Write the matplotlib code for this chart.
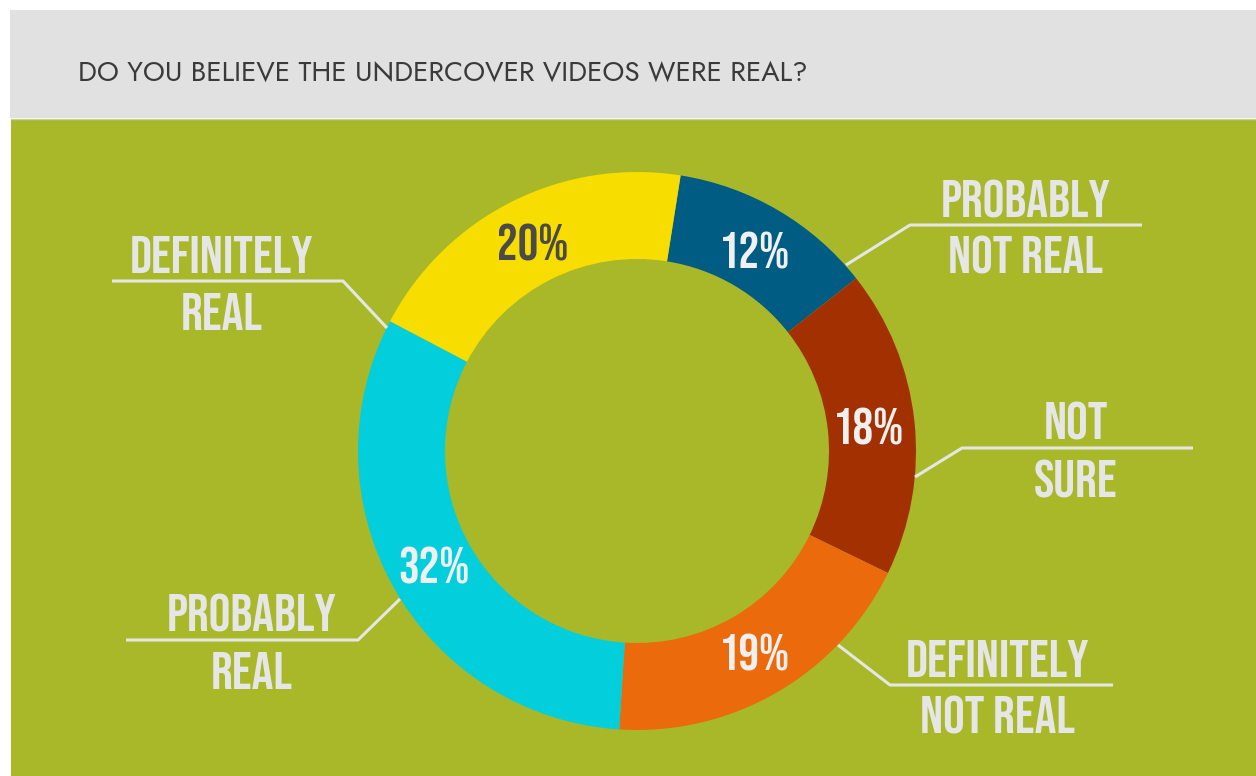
import matplotlib.pyplot as plt
from matplotlib.patches import Rectangle

# data
categories = ['PROBABLY\nNOT REAL', 'NOT\nSURE', 'DEFINITELY\nNOT REAL', 'PROBABLY\nREAL', 'DEFINITELY\nREAL']
shares = [12, 18, 19, 32, 20]
pct_labels = ['12%', '18%', '19%', '32%', '20%']

colors = ['#005c82', '#a33000', '#ea6a0c', '#03cfdc', '#f8dd00']
pct_colors = ['#f0f0f0', '#f0f0f0', '#f0f0f0', '#f0f0f0', '#4a4a4a']
W, H = 1256, 776
green = '#a8b828'
light = '#e6e6e6'
bebas = ['Bebas Neue', 'DejaVu Sans']

fig = plt.figure(figsize=(W / 100, H / 100), dpi=100)
fig.patch.set_facecolor('white')
ax = fig.add_axes([0, 0, 1, 1])

def Y(y):
	return H - y

# header + background
ax.add_patch(Rectangle((10, Y(118)), W - 10, 108, facecolor='#e1e1e1', edgecolor='none', zorder=0))
ax.add_patch(Rectangle((11, 0), W - 11, Y(119), facecolor=green, edgecolor='none', zorder=0))
ax.plot([11, W], [Y(118.5), Y(118.5)], color='#c9cfa2', linewidth=1, zorder=1)
ax.text(78, Y(81), 'DO YOU BELIEVE THE UNDERCOVER VIDEOS WERE REAL?', fontsize=20,
	color='#3a3a3a', ha='left', va='baseline', family=['Jost', 'DejaVu Sans'],
	fontweight='medium', zorder=3)

# donut
wedges, texts = ax.pie(shares, colors=colors, startangle=81, counterclock=False,
	center=(637, Y(451)), radius=279, frame=True, labeldistance=233 / 279,
	labels=pct_labels, wedgeprops=dict(width=87, edgecolor='none'),
	textprops=dict(fontsize=37, family=bebas))
for t, c in zip(texts, pct_colors):
	t.set_color(c)
	t.set_ha('center')
	t.set_va('baseline')
	x, y = t.get_position()
	t.set_position((x, y - 18))

# leader lines: (points of the polyline in image px), text centre x, line y
leaders = [
	([(846, 265), (910, 225), (1142, 225)], 1026, 225),
	([(915, 477), (962, 448), (1193, 448)], 1076, 448),
	([(838, 645), (890, 685), (1113, 685)], 997, 685),
	([(400, 599), (358, 640), (126, 640)], 252, 640),
	([(387, 328), (343, 281), (112, 281)], 222, 281),
]
for name, (pts, tx, ly) in zip(categories, leaders):
	xs = [p[0] for p in pts]
	ys = [Y(p[1]) for p in pts]
	ax.plot(xs, ys, color=light, linewidth=2.2, solid_capstyle='butt', zorder=4)
	top, bottom = name.split('\n')
	ax.text(tx, Y(ly - 8), top, fontsize=39, color=light, ha='center',
		va='baseline', family=bebas, zorder=5)
	ax.text(tx, Y(ly + 49), bottom, fontsize=39, color=light, ha='center',
		va='baseline', family=bebas, zorder=5)

ax.set_xlim(0, W)
ax.set_ylim(0, H)
ax.axis('off')
plt.savefig('out.png', dpi=100, facecolor='white')
plt.close()
